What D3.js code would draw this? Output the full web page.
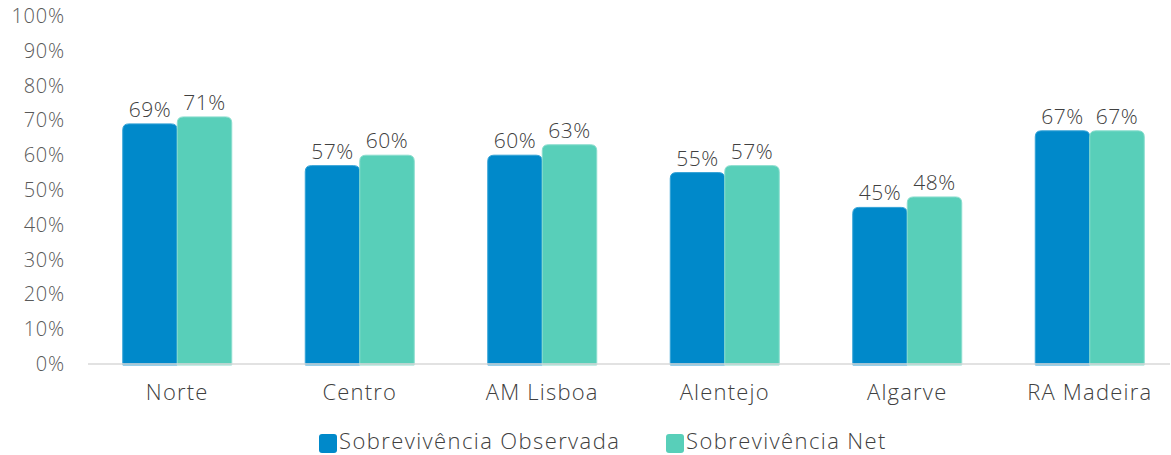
<!DOCTYPE html>
<html>
<head>
<meta charset="utf-8">
<script src="https://cdn.jsdelivr.net/npm/d3@7"></script>
<style>
    body { margin: 0; background: #fff; }
    text { font-family: "Open Sans", "Lato", sans-serif; font-weight: 300; }
    .eg-tick { fill: #595959; font-size: 20px; letter-spacing: 0.8px; }
    .eg-cat { fill: #404040; font-size: 22px; letter-spacing: 1.2px; }
    .eg-value { fill: #404040; font-size: 21px; letter-spacing: 0.5px; }
    .eg-legend-item { fill: #404040; font-size: 22px; letter-spacing: 1.4px; }
</style>
</head>
<body>
<svg id="eg-svg"></svg>
<script>
var regions = ["Norte", "Centro", "AM Lisboa", "Alentejo", "Algarve", "RA Madeira"];
var observada = [69, 57, 60, 55, 45, 67];
var net = [71, 60, 63, 57, 48, 67];
var seriesNames = ["Sobrevivência Observada", "Sobrevivência Net"];
var tickValues = [0, 10, 20, 30, 40, 50, 60, 70, 80, 90, 100];

var width = 1171;
var height = 455;
var colors = ["#0089CA", "#58CFB9"];
var strokes = ["#33A2D6", "#8ADDCE"];

var svg = d3.select("#eg-svg")
    .attr("width", width)
    .attr("height", height);

var xScale = d3.scaleBand()
    .domain(regions)
    .range([86, 1181]);
var innerScale = d3.scaleBand()
    .domain([0, 1])
    .range([0, 109]);
var yScale = d3.scaleLinear()
    .domain([0, 100])
    .range([364, 16]);

// y axis labels, no line
svg.append("g")
    .selectAll("text")
    .data(tickValues)
    .join("text")
    .attr("class", "eg-tick")
    .attr("x", 65)
    .attr("y", d => yScale(d))
    .attr("dy", "0.35em")
    .attr("text-anchor", "end")
    .text(d => d + "%");

var table = regions.map(function(r, i) {
    return { region: r, values: [observada[i], net[i]] };
});

// rounded top corners only
function barPath(x, y, w, h, r) {
    return "M" + x + "," + (y + h) +
        "V" + (y + r) +
        "Q" + x + "," + y + " " + (x + r) + "," + y +
        "H" + (x + w - r) +
        "Q" + (x + w) + "," + y + " " + (x + w) + "," + (y + r) +
        "V" + (y + h) + "Z";
}

var groups = svg.append("g")
    .selectAll("g")
    .data(table)
    .join("g")
    .attr("transform", d => "translate(" + (xScale(d.region) + xScale.bandwidth() / 2 - 54.5) + ",0)");

groups.each(function(d) {
    var g = d3.select(this);
    d.values.forEach(function(v, k) {
        var x0 = innerScale(k);
        var w = innerScale.bandwidth();
        var y0 = yScale(v);
        g.append("path")
            .attr("d", barPath(x0, y0, w, yScale(0) - y0 + 1, 6))
            .attr("fill", colors[k])
            .attr("stroke", strokes[k])
            .attr("stroke-width", 1);
        g.append("text")
            .attr("class", "eg-value")
            .attr("x", x0 + w / 2)
            .attr("y", y0 - 7)
            .attr("text-anchor", "middle")
            .text(v + "%");
    });
});

// baseline
svg.append("line")
    .attr("x1", 88)
    .attr("x2", 1170)
    .attr("y1", yScale(0))
    .attr("y2", yScale(0))
    .attr("stroke", "#D9D9D9")
    .attr("stroke-width", 1.5);

svg.append("g")
    .selectAll("text")
    .data(regions)
    .join("text")
    .attr("class", "eg-cat")
    .attr("x", d => xScale(d) + xScale.bandwidth() / 2)
    .attr("y", 400)
    .attr("text-anchor", "middle")
    .text(d => d);

// legend
var legendX = [319, 666];
var legend = svg.append("g");
seriesNames.forEach(function(name, k) {
    legend.append("rect")
        .attr("x", legendX[k])
        .attr("y", 434)
        .attr("width", 18)
        .attr("height", 19)
        .attr("rx", 3)
        .attr("fill", colors[k]);
    legend.append("text")
        .attr("class", "eg-legend-item")
        .attr("x", legendX[k] + 20)
        .attr("y", 449)
        .text(name);
});
</script>
</body>
</html>
